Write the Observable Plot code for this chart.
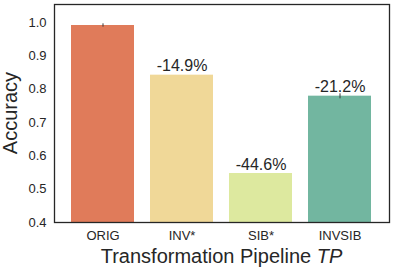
<!DOCTYPE html>
<html><head><meta charset="utf-8">
<script src="https://cdn.jsdelivr.net/npm/d3@7"></script>
<script src="https://cdn.jsdelivr.net/npm/@observablehq/plot@0.6"></script>
<style>
body{margin:0;background:#fff;}
svg{font-family:"Liberation Sans",Arial,sans-serif;}
</style></head>
<body><div id="chart"></div>
<script>
const categories = ["ORIG", "INV*", "SIB*", "INVSIB"];
const accuracy = [0.991, 0.842, 0.547, 0.779];
const errLow = [0.986, 0.842, 0.547, 0.771];
const errHigh = [0.996, 0.842, 0.547, 0.786];
const changeLabels = ["", "-14.9%", "-44.6%", "-21.2%"];
const colors = ["#e07b5a", "#f0d898", "#dde99f", "#72b6a0"];
const yTicks = [0.4, 0.5, 0.6, 0.7, 0.8, 0.9, 1.0];

const data = categories.map((c, i) => ({
  cat: c, acc: accuracy[i], lo: errLow[i], hi: errHigh[i], lab: changeLabels[i], col: colors[i]
}));

const plot = Plot.plot({
  width: 395, height: 268,
  marginLeft: 54, marginRight: 6, marginTop: 4, marginBottom: 46,
  style: {fontFamily: '"Liberation Sans", Arial, sans-serif', background: "#fff"},
  x: {domain: categories, padding: 0.2, label: null, tickSize: 0, tickPadding: 8},
  y: {domain: [0.4, 1.054], ticks: yTicks, tickFormat: d3.format(".1f"), label: null, tickSize: 0, tickPadding: 8},
  marks: [
    Plot.barY(data, {x: "cat", y1: 0.4, y2: "acc", fill: "col"}),
    Plot.ruleX(data.filter(d => d.hi > d.lo), {x: "cat", y1: "lo", y2: "hi", stroke: "#3a3a3a", strokeWidth: 1}),
    Plot.text(data.filter(d => d.lab), {x: "cat", y: "acc", text: "lab", dy: -9, fontSize: 16, fill: "#262626"}),
    Plot.frame({stroke: "#262626", strokeWidth: 1.3})
  ]
});

const svg = d3.select(plot);
svg.selectAll('g[aria-label="x-axis tick label"] text, g[aria-label="y-axis tick label"] text')
  .attr("font-size", 13).attr("fill", "#262626");
svg.selectAll('g[aria-label="x-axis tick label"]').attr("font-size", 13).attr("fill", "#262626");
svg.selectAll('g[aria-label="y-axis tick label"]').attr("font-size", 13).attr("fill", "#262626");

svg.append("text")
  .attr("transform", "translate(12,113) rotate(-90)")
  .attr("text-anchor", "middle").attr("dominant-baseline", "middle")
  .attr("font-size", 20).attr("fill", "#262626")
  .text("Accuracy");

const xl = svg.append("text")
  .attr("x", 221.5).attr("y", 258)
  .attr("text-anchor", "middle").attr("dominant-baseline", "middle")
  .attr("font-size", 20).attr("fill", "#262626");
xl.append("tspan").text("Transformation Pipeline ");
xl.append("tspan").attr("font-style", "italic").text("TP");

document.getElementById("chart").append(plot);
</script>
</body></html>
